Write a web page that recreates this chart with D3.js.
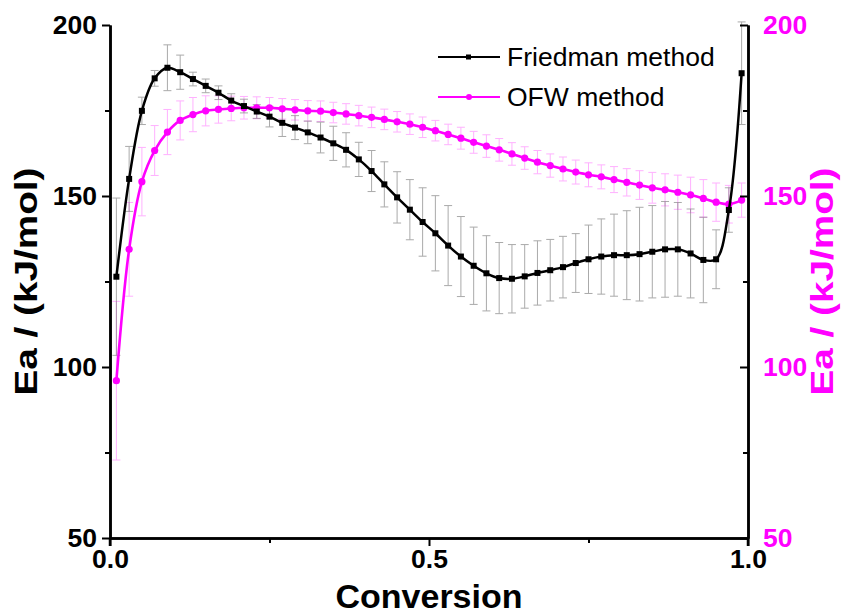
<!DOCTYPE html>
<html>
<head>
<meta charset="utf-8">
<script src="https://cdn.jsdelivr.net/npm/d3@7"></script>
<style>
  body { margin: 0; background: #fff; }
  svg text { font-family: "Liberation Sans", Arial, sans-serif; }
</style>
</head>
<body>
<div id="chart"></div>
<script>
// conversion values (x) shared by both series
const conversion = [0.01, 0.03, 0.05, 0.07, 0.09, 0.11, 0.13, 0.15, 0.17, 0.19,
    0.21, 0.23, 0.25, 0.27, 0.29, 0.31, 0.33, 0.35, 0.37, 0.39,
    0.41, 0.43, 0.45, 0.47, 0.49, 0.51, 0.53, 0.55, 0.57, 0.59,
    0.61, 0.63, 0.65, 0.67, 0.69, 0.71, 0.73, 0.75, 0.77, 0.79,
    0.81, 0.83, 0.85, 0.87, 0.89, 0.91, 0.93, 0.95, 0.97, 0.99];

const friedman = [126.4, 155.0, 174.9, 184.4, 187.5, 186.2, 184.2, 182.2, 180.2, 177.9,
    176.3, 174.7, 173.2, 171.4, 170.0, 168.6, 167.1, 165.4, 163.5, 160.7,
    157.3, 153.4, 149.6, 146.0, 142.4, 139.1, 135.5, 132.3, 129.6, 127.4,
    126.0, 125.8, 126.5, 127.5, 128.3, 129.2, 130.4, 131.5, 132.3, 132.7,
    132.7, 133.0, 133.7, 134.4, 134.4, 133.2, 131.3, 131.5, 145.9, 185.9];
const friedmanErr = [23, 9.5, 4, 2.3, 6.7, 5, 2, 2, 2, 2,
    2, 2, 3, 4, 3.5, 3.3, 4.5, 5, 5, 5,
    6, 6.6, 7.5, 8.8, 10, 11, 11.7, 11.7, 11.3, 11,
    10.4, 10, 9.3, 9.4, 9, 9, 8.6, 10, 11, 12,
    13, 13.7, 13.5, 14, 13.7, 13, 12.5, 8.6, 6.5, 15];

const ofw = [96.0, 134.4, 154.2, 163.3, 168.7, 172.1, 173.8, 174.9, 175.3, 175.6,
    175.8, 175.8, 175.8, 175.5, 175.2, 174.9, 174.8, 174.4, 174.0, 173.5,
    173.0, 172.4, 171.7, 171.0, 170.1, 169.1, 168.0, 166.9, 165.7, 164.6,
    163.5, 162.3, 161.1, 159.9, 158.9, 157.9, 157.0, 156.2, 155.6, 154.8,
    154.0, 153.2, 152.4, 151.8, 151.1, 150.3, 149.3, 148.2, 147.6, 148.8];
const ofwErr = [23.2, 13.7, 10, 7.3, 6.6, 5.7, 5, 4.4, 4, 3.6,
    3.3, 3.2, 3, 3, 3, 3, 3, 3, 3, 3,
    3, 3, 3, 3, 3, 3, 3, 3.2, 3.2, 3.3,
    3.3, 3.3, 3.3, 3.4, 3.4, 3.5, 3.5, 3.5, 3.5, 3.8,
    4, 4.2, 4.5, 4.7, 5, 5.2, 5.5, 5.6, 5.5, 5];

const xTicks = [0, 0.5, 1.0],
    xMinorTicks = [0.25, 0.75],
    yTicks = [50, 100, 150, 200],
    yMinorTicks = [75, 125, 175];

const seriesNames = ["Friedman method", "OFW method"];

const width = 842, height = 615;
var margin = { top: 25, right: 94, bottom: 77, left: 110 };
var plotW = width - margin.left - margin.right,
    plotH = height - margin.top - margin.bottom;

var svg = d3.select("#chart").append("svg")
    .attr("width", width)
    .attr("height", height)
    .style("background", "#fff");

var g = svg.append("g")
    .attr("transform", "translate(" + margin.left + "," + margin.top + ")");

var x = d3.scaleLinear().domain([0, 1]).range([0, plotW]);
var y = d3.scaleLinear().domain([50, 200]).range([plotH, 0]);
var y2 = d3.scaleLinear().domain([50, 200]).range([plotH, 0]);

const magenta = "#ff00ff";

// error bars
function errorBars(values, errs, color, opacity) {
    var eb = g.append("g")
        .attr("stroke", color)
        .attr("stroke-width", 1)
        .attr("opacity", opacity);
    var rows = values.map((v, i) => ({ x: conversion[i], v: v, e: errs[i] }));
    eb.selectAll("line.v").data(rows).enter().append("line")
        .attr("x1", d => x(d.x)).attr("x2", d => x(d.x))
        .attr("y1", d => y(d.v + d.e)).attr("y2", d => y(d.v - d.e));
    eb.selectAll("line.t").data(rows).enter().append("line")
        .attr("x1", d => x(d.x) - 4).attr("x2", d => x(d.x) + 4)
        .attr("y1", d => y(d.v + d.e)).attr("y2", d => y(d.v + d.e));
    eb.selectAll("line.b").data(rows).enter().append("line")
        .attr("x1", d => x(d.x) - 4).attr("x2", d => x(d.x) + 4)
        .attr("y1", d => y(d.v - d.e)).attr("y2", d => y(d.v - d.e));
}
errorBars(ofw, ofwErr, "#ff66ff", 0.5);
errorBars(friedman, friedmanErr, "#666", 0.55);

var line = d3.line()
    .x((d, i) => x(conversion[i]))
    .curve(d3.curveCatmullRom.alpha(0.5));

// OFW series
g.append("path")
    .datum(ofw)
    .attr("fill", "none")
    .attr("stroke", magenta)
    .attr("stroke-width", 2.6)
    .attr("d", line.y(d => y2(d)));
g.selectAll(".ofwpt").data(ofw).enter().append("circle")
    .attr("class", "ofwpt")
    .attr("cx", (d, i) => x(conversion[i]))
    .attr("cy", d => y2(d))
    .attr("r", 3.6)
    .attr("fill", magenta);

// Friedman series
g.append("path")
    .datum(friedman)
    .attr("fill", "none")
    .attr("stroke", "#000")
    .attr("stroke-width", 2.5)
    .attr("d", line.y(d => y(d)));
g.selectAll(".frpt").data(friedman).enter().append("rect")
    .attr("class", "frpt")
    .attr("x", (d, i) => x(conversion[i]) - 3)
    .attr("y", d => y(d) - 3)
    .attr("width", 6)
    .attr("height", 6)
    .attr("fill", "#000");

// axes
var xAxis = g.append("g")
    .attr("transform", "translate(0," + plotH + ")")
    .call(d3.axisBottom(x).tickValues(xTicks).tickFormat(d3.format(".1f")).tickSize(8).tickSizeOuter(0));
g.append("g")
    .attr("transform", "translate(0," + plotH + ")")
    .call(d3.axisBottom(x).tickValues(xMinorTicks).tickFormat("").tickSize(5).tickSizeOuter(0));

var yAxis = g.append("g")
    .call(d3.axisLeft(y).tickValues(yTicks).tickSize(8).tickSizeOuter(0));
g.append("g")
    .call(d3.axisLeft(y).tickValues(yMinorTicks).tickFormat("").tickSize(5).tickSizeOuter(0));

var y2Axis = g.append("g")
    .attr("transform", "translate(" + plotW + ",0)")
    .call(d3.axisRight(y2).tickValues(yTicks).tickSize(-8).tickSizeOuter(0));
g.append("g")
    .attr("transform", "translate(" + plotW + ",0)")
    .call(d3.axisRight(y2).tickValues(yMinorTicks).tickFormat("").tickSize(-5).tickSizeOuter(0));

g.selectAll(".domain").attr("stroke", "#000").attr("stroke-width", 2.5);
g.selectAll(".tick line").attr("stroke", "#000").attr("stroke-width", 2);

// vertical axes extend a little below the bottom line
g.append("line")
    .attr("x1", 0).attr("x2", 0)
    .attr("y1", plotH).attr("y2", plotH + 8)
    .attr("stroke", "#000").attr("stroke-width", 2.5);
g.append("line")
    .attr("x1", plotW).attr("x2", plotW)
    .attr("y1", plotH).attr("y2", plotH + 8)
    .attr("stroke", "#000").attr("stroke-width", 2.5);

xAxis.selectAll("text")
    .attr("font-size", 26.5).attr("font-weight", "bold").attr("fill", "#000")
    .attr("dy", "0.75em").attr("y", 10);
yAxis.selectAll("text")
    .attr("font-size", 26.5).attr("font-weight", "bold").attr("fill", "#000")
    .attr("x", -13);
y2Axis.selectAll("text")
    .attr("font-size", 26.5).attr("font-weight", "bold").attr("fill", magenta)
    .attr("x", 15);

// axis titles
svg.append("text")
    .attr("x", margin.left + plotW / 2)
    .attr("y", 608)
    .attr("text-anchor", "middle")
    .attr("font-size", 34).attr("font-weight", "bold")
    .text("Conversion");

svg.append("text")
    .attr("transform", "translate(37," + (margin.top + plotH / 2) + ") rotate(-90)")
    .attr("text-anchor", "middle")
    .attr("font-size", 31).attr("font-weight", "bold")
    .attr("textLength", 228).attr("lengthAdjust", "spacingAndGlyphs")
    .text("Ea / (kJ/mol)");

svg.append("text")
    .attr("transform", "translate(833," + (margin.top + plotH / 2) + ") rotate(-90)")
    .attr("text-anchor", "middle")
    .attr("font-size", 31).attr("font-weight", "bold")
    .attr("textLength", 228).attr("lengthAdjust", "spacingAndGlyphs")
    .attr("fill", magenta)
    .text("Ea / (kJ/mol)");

// legend
var legend = svg.append("g").attr("transform", "translate(438,57)");
legend.append("line").attr("x1", 0).attr("x2", 62).attr("y1", 0).attr("y2", 0)
    .attr("stroke", "#000").attr("stroke-width", 2);
legend.append("rect").attr("x", 28).attr("y", -2.5).attr("width", 5).attr("height", 5).attr("fill", "#000");
legend.append("text").attr("x", 69).attr("y", 0).attr("dy", "0.35em")
    .attr("font-size", 26.5).text(seriesNames[0]);
legend.append("line").attr("x1", 0).attr("x2", 62).attr("y1", 40).attr("y2", 40)
    .attr("stroke", magenta).attr("stroke-width", 2);
legend.append("circle").attr("cx", 31).attr("cy", 40).attr("r", 3).attr("fill", magenta);
legend.append("text").attr("x", 69).attr("y", 40).attr("dy", "0.35em")
    .attr("font-size", 26.5).text(seriesNames[1]);
</script>
</body>
</html>
